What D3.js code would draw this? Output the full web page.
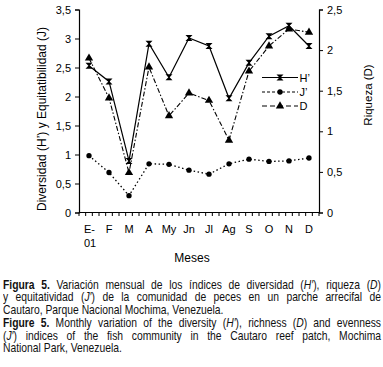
<!DOCTYPE html>
<html>
<head>
<meta charset="utf-8">
<script src="https://cdn.jsdelivr.net/npm/d3@7.9.0/dist/d3.min.js"></script>
<style>
  body { margin: 0; background: #fff; }
  #wrap { position: relative; width: 383px; height: 367px; overflow: hidden; }
  svg { position: absolute; left: 0; top: 0; }
  text { font-family: "Liberation Sans", Arial, sans-serif; fill: #000; }
  /* narrow caption: regular font squeezed horizontally */
  .cap { position: absolute; left: 3px; width: 461px; transform: scaleX(0.82); transform-origin: 0 0;
         font-family: "Liberation Sans", Arial, sans-serif; font-size: 12.6px; line-height: 12.5px;
         white-space: nowrap; color: #111; }
  .cap.j { text-align: justify; text-align-last: justify; }
</style>
</head>
<body>
<div id="wrap"></div>
<script>
// Data
const months = ['E-01', 'F', 'M', 'A', 'My', 'Jn', 'Jl', 'Ag', 'S', 'O', 'N', 'D'];
const diversity = [2.53, 2.26, 0.89, 2.91, 2.33, 3.01, 2.87, 1.97, 2.58, 3.04, 3.22, 2.87];   // H'
const evenness = [0.98, 0.69, 0.29, 0.84, 0.83, 0.73, 0.66, 0.84, 0.92, 0.88, 0.89, 0.94];    // J'
const richness = [1.90, 1.41, 0.49, 1.79, 1.19, 1.47, 1.38, 0.89, 1.74, 2.05, 2.26, 2.22];    // D
const leftTicks = [0, 0.5, 1, 1.5, 2, 2.5, 3, 3.5];
const rightTicks = [0, 0.5, 1, 1.5, 2, 2.5];

const wrap = d3.select('#wrap');
const svg = wrap.append('svg').attr('width', 383).attr('height', 367);

// Scales
const x = d3.scaleBand().domain(months).range([79, 319]).padding(0);
const cx = (d) => x(d) + x.bandwidth() / 2;
const yL = d3.scaleLinear().domain([0, 3.5]).range([212.5, 9.5]);
const yR = d3.scaleLinear().domain([0, 2.5]).range([212.5, 9.5]);

const fmt = (d) => String(d).replace('.', ',');

// Left axis
const axL = svg.append('g').attr('transform', 'translate(79,0)')
    .call(d3.axisLeft(yL).tickValues(leftTicks).tickSize(4).tickPadding(4).tickFormat(fmt));
// Right axis
const axR = svg.append('g').attr('transform', 'translate(319,0)')
    .call(d3.axisRight(yR).tickValues(rightTicks).tickSize(4).tickPadding(4).tickFormat(fmt));
[axL, axR].forEach((g) => {
    g.select('.domain').attr('stroke', '#000').attr('stroke-width', 1.2);
    g.selectAll('.tick line').attr('stroke', '#000');
    g.selectAll('.tick text').style('font-size', '11px').style('font-family', '"Liberation Sans", Arial, sans-serif');
});

// Bottom axis: line with small ticks every third of a band
svg.append('line').attr('x1', 79).attr('x2', 319).attr('y1', 212.5).attr('y2', 212.5)
    .attr('stroke', '#000').attr('stroke-width', 1.2);
svg.append('g').selectAll('line').data(d3.range(0, 37)).join('line')
    .attr('x1', (i) => 79 + i * 240 / 36).attr('x2', (i) => 79 + i * 240 / 36)
    .attr('y1', 212.5).attr('y2', 216).attr('stroke', '#000');

// Month labels
const ml = svg.append('g').style('font-size', '11px');
months.forEach((m) => {
    if (m === 'E-01') {
        ml.append('text').attr('x', cx(m) - 5).attr('y', 233).text('E-');
        ml.append('text').attr('x', cx(m) - 5).attr('y', 246.5).text('01');
    } else {
        ml.append('text').attr('x', cx(m)).attr('y', 233).attr('text-anchor', 'middle').text(m);
    }
});

// Axis titles
svg.append('text').attr('x', 192).attr('y', 262).attr('text-anchor', 'middle')
    .style('font-size', '12px').text('Meses');
svg.append('text').attr('transform', 'translate(46,119) rotate(-90)').attr('text-anchor', 'middle')
    .style('font-size', '12px').text('Diversidad (H’) y Equitatibilidad (J)');
svg.append('text').attr('transform', 'translate(372,95) rotate(-90)').attr('text-anchor', 'middle')
    .style('font-size', '11.5px').text('Riqueza (D)');

// Markers
const hourglass = 'M-3.5,-3L3.5,-3L0.6,0L3.5,3L-3.5,3L-0.6,0Z';
const tri = d3.symbol(d3.symbolTriangle, 30)();
const dot = d3.symbol(d3.symbolCircle, 22)();

function drawSeries(vals, yScale, dash, width, marker) {
    const line = d3.line().x((d, i) => cx(months[i])).y((d) => yScale(d));
    svg.append('path').attr('d', line(vals)).attr('fill', 'none').attr('stroke', '#000')
        .attr('stroke-width', width).attr('stroke-dasharray', dash);
    svg.append('g').selectAll('path').data(vals).join('path')
        .attr('transform', (d, i) => `translate(${cx(months[i])},${yScale(d)})`)
        .attr('d', marker).attr('fill', '#000');
}

drawSeries(richness, yR, '5,2,1.5,2', 1.1, tri);
drawSeries(evenness, yL, '1.5,2.5', 1.3, dot);
drawSeries(diversity, yL, null, 1.2, hourglass);

// Legend
const legend = [
    { label: 'H’', dash: null, marker: hourglass, y: 77.5 },
    { label: 'J’', dash: '3,2', marker: dot, y: 92 },
    { label: 'D', dash: '5,3', marker: tri, y: 106 }
];
const lg = svg.append('g');
legend.forEach((d) => {
    lg.append('line').attr('x1', 262).attr('x2', 298).attr('y1', d.y).attr('y2', d.y)
        .attr('stroke', '#000').attr('stroke-width', 1.2).attr('stroke-dasharray', d.dash);
    lg.append('path').attr('d', d.marker).attr('transform', `translate(280,${d.y})`).attr('fill', '#000');
    lg.append('text').attr('x', 299.5).attr('y', d.y + 4).style('font-size', '11px').text(d.label);
});

// Caption
const capLines = [
    { y: 278.5, j: true, html: '<b>Figura 5.</b> Variación mensual de los índices de diversidad (<i>H′</i>), riqueza (<i>D</i>)' },
    { y: 291, j: true, html: 'y equitatividad (<i>J′</i>) de la comunidad de peces en un parche arrecifal de' },
    { y: 303.5, j: false, html: 'Cautaro, Parque Nacional Mochima, Venezuela.' },
    { y: 317, j: true, html: '<b>Figure 5.</b> Monthly variation of the diversity (<i>H′</i>), richness (<i>D</i>) and evenness' },
    { y: 329.5, j: true, html: '(<i>J′</i>) indices of the fish community in the Cautaro reef patch, Mochima' },
    { y: 342, j: false, html: 'National Park, Venezuela.' }
];
capLines.forEach((c) => {
    wrap.append('div').attr('class', c.j ? 'cap j' : 'cap').style('top', c.y + 'px').html(c.html);
});
</script>
</body>
</html>
